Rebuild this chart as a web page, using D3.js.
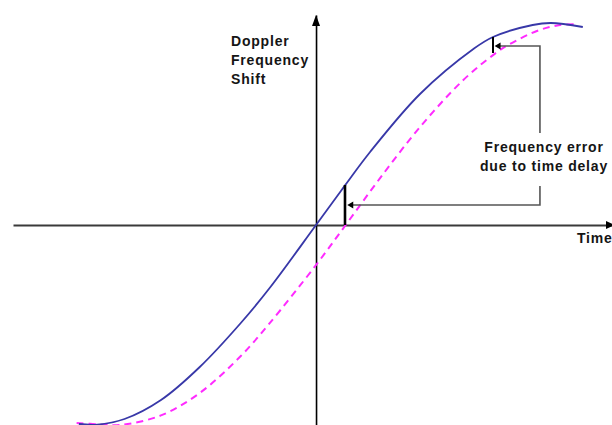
<!DOCTYPE html>
<html>
<head>
<meta charset="utf-8">
<script src="https://cdn.jsdelivr.net/npm/d3@7/dist/d3.min.js"></script>
<style>
  html, body { margin: 0; padding: 0; background: #fff; }
  svg { display: block; }
  text { font-family: "Liberation Sans", Arial, sans-serif; font-weight: bold; font-size: 14px; fill: #151515; letter-spacing: 0.8px; }
</style>
</head>
<body>
<script>
// ---- Data (time in quarter-periods, Doppler shift normalised) ----
const actualTime  = [-1.04, -0.96, -0.84, -0.68, -0.51, -0.33, -0.2, 0, 0.127, 0.237, 0.456, 0.69, 0.776, 0.95, 1.03, 1.17];
const actualShift = [-0.995, -0.998, -0.97, -0.875, -0.71, -0.49, -0.31, 0, 0.198, 0.365, 0.655, 0.88, 0.94, 1.0, 1.01, 0.99];
const delayedTime  = [-1.05, -0.95, -0.86, -0.68, -0.51, -0.33, -0.21, 0, 0.13, 0.28, 0.456, 0.645, 0.785, 0.85, 0.98, 1.07, 1.145];
const delayedShift = [-0.99, -0.997, -1.0, -0.952, -0.84, -0.655, -0.5, -0.2, 0, 0.233, 0.49, 0.724, 0.857, 0.905, 0.975, 1.0, 1.003];
// error markers: time, top (actual), bottom (delayed)
const errorTime   = [0.127, 0.776];
const errorTop    = [0.2, 0.94];
const errorBottom = [0, 0.86];
const yAxisLabel = ["Doppler", "Frequency", "Shift"];
const xAxisLabel = "Time";
const noteLabel  = ["Frequency error", "due to time delay"];

const W = 612, H = 425;
const svg = d3.select("body").append("svg").attr("width", W).attr("height", H);

const x = d3.scaleLinear().domain([-1.329, 1.298]).range([13, 612]);
const y = d3.scaleLinear().domain([-1, 1.05]).range([425, 15]);

// axes (no ticks)
const xAxis = svg.append("g").attr("transform", `translate(0,${y(0)})`)
  .call(d3.axisBottom(x).tickValues([]).tickSizeOuter(0));
xAxis.select(".domain").attr("stroke", "#3a3a3a").attr("stroke-width", 2);
const yAxis = svg.append("g").attr("transform", `translate(${x(0)},0)`)
  .call(d3.axisLeft(y).tickValues([]).tickSizeOuter(0));
yAxis.select(".domain").attr("stroke", "#000").attr("stroke-width", 1.6);

// axis arrowheads
svg.append("path")
  .attr("d", `M${x(0)},${y(1.05)} l-4,11 l8,0 z`).attr("fill", "#000");
svg.append("path")
  .attr("d", `M${x(1.298)+3},${y(0)} l-9,-4 l0,8 z`).attr("fill", "#000");

const line = d3.line().x(d => x(d[0])).y(d => y(d[1])).curve(d3.curveCatmullRom.alpha(0.5));

svg.append("path")
  .datum(delayedTime.map((t, i) => [t, delayedShift[i]]))
  .attr("d", line).attr("fill", "none")
  .attr("stroke", "#ff2bff").attr("stroke-width", 2).attr("stroke-dasharray", "7,5");

svg.append("path")
  .datum(actualTime.map((t, i) => [t, actualShift[i]]))
  .attr("d", line).attr("fill", "none")
  .attr("stroke", "#3838a8").attr("stroke-width", 1.8);

// error markers
svg.selectAll("line.err").data(errorTime).enter().append("line")
  .attr("class", "err")
  .attr("x1", d => x(d)).attr("x2", d => x(d))
  .attr("y1", (d, i) => y(errorTop[i])).attr("y2", (d, i) => y(errorBottom[i]))
  .attr("stroke", "#000").attr("stroke-width", (d, i) => i === 0 ? 2.6 : 2);

// annotation connector
const noteX = 0.982;
svg.append("path")
  .attr("d", `M${x(0.79)},${y(0.895)} L${x(noteX)},${y(0.895)} L${x(noteX)},${y(0.46)}`)
  .attr("fill", "none").attr("stroke", "#555").attr("stroke-width", 1.6);
svg.append("path")
  .attr("d", `M${x(noteX)},${y(0.195)} L${x(noteX)},${y(0.1)} L${x(0.15)},${y(0.1)}`)
  .attr("fill", "none").attr("stroke", "#555").attr("stroke-width", 1.6);
svg.append("path")
  .attr("d", `M${x(0.783)},${y(0.895)} l6,-3.5 l0,7 z`).attr("fill", "#000");
svg.append("path")
  .attr("d", `M${x(0.137)},${y(0.1)} l6,-3.5 l0,7 z`).attr("fill", "#000");

// labels
svg.append("g").selectAll("text").data(yAxisLabel).enter().append("text")
  .attr("x", 231).attr("y", (d, i) => 45.5 + i * 19.3).text(d => d);

svg.append("g").selectAll("text").data(noteLabel).enter().append("text")
  .attr("x", 544).attr("y", (d, i) => 152 + i * 19)
  .attr("text-anchor", "middle").text(d => d);

svg.append("text").attr("x", 577).attr("y", 243).text(xAxisLabel);
</script>
</body>
</html>
